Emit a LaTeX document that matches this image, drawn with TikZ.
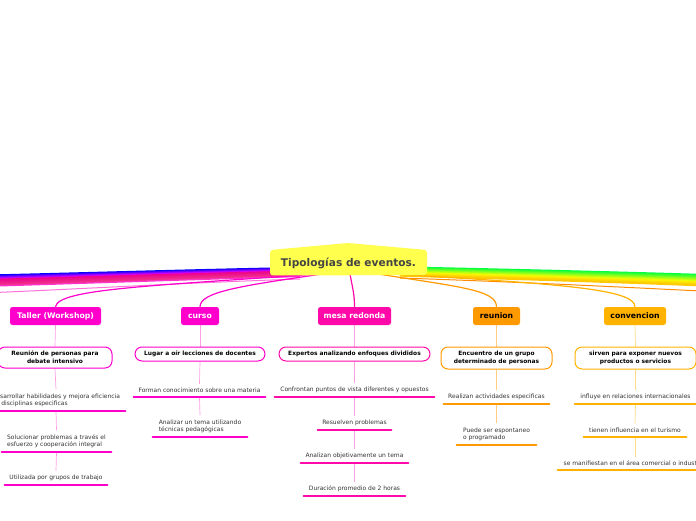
\documentclass[tikz,border=0pt]{standalone}
\usepackage{fontspec}
\setmainfont{DejaVu Sans}
\usetikzlibrary{backgrounds}
\definecolor{pinkA}{HTML}{FF00CC}
\definecolor{pinkB}{HTML}{FF0AA8}
\definecolor{orangeA}{HTML}{FF9900}
\definecolor{goldA}{HTML}{FFB300}
\definecolor{lpink}{HTML}{FF9FE6}
\definecolor{lorange}{HTML}{FFCC80}
\definecolor{lgold}{HTML}{FFDD8A}
\definecolor{titleyellow}{HTML}{FFFF4D}
\definecolor{titlegray}{HTML}{444444}
\definecolor{itemgray}{HTML}{333333}
\definecolor{bandgreen}{HTML}{00FF40}
\definecolor{bandgold}{HTML}{FFC800}
\definecolor{bandpink}{HTML}{FF33CC}
\begin{document}
\begin{tikzpicture}[x=1pt,y=-1pt,
  titletext/.style={text=titlegray, font=\bfseries\fontsize{10.6}{12}\selectfont, minimum width=157pt, minimum height=26pt, inner sep=0pt},
  mainbox/.style={rounded corners=2.5pt, minimum height=18pt, inner sep=1pt, font=\bfseries\fontsize{7.7}{9}\selectfont},
  subbox/.style={draw, fill=white, line width=1pt, rounded corners=7pt, inner sep=1pt, align=center, text=black, font=\bfseries\fontsize{5.9}{7.8}\selectfont},
  item/.style={anchor=south, inner xsep=0pt, inner ysep=4pt, text=itemgray, font=\fontsize{6}{7.4}\selectfont},
  ul/.style={line width=2.6pt, line cap=round},
  link/.style={line width=0.7pt},
  mainlink/.style={line width=1.2pt},
]
\useasboundingbox (0,0) rectangle (696,520);

% ---- title
\node[titletext] (title) at (348.5,263.5) {Tipologías de eventos.};

% ---- main boxes
\node[mainbox, fill=pinkA, text=white, minimum width=91pt] (t1) at (55.5,316) {Taller (Workshop)};
\node[mainbox, fill=pinkA, text=white, minimum width=38pt] (t2) at (200,316) {curso};
\node[mainbox, fill=pinkB, text=white, minimum width=73pt] (t3) at (354.5,316) {mesa redonda};
\node[mainbox, fill=orangeA, text=black, minimum width=47pt] (t4) at (496.5,316) {reunion};
\node[mainbox, fill=goldA, text=black, minimum width=62pt] (t5) at (635,316) {convencion};

% ---- second level
\node[subbox, draw=pinkA, minimum width=114pt, minimum height=21pt] (s1) at (55,357.5) {Reunión de personas para\\debate intensivo};
\node[subbox, draw=pinkA, minimum width=130pt, minimum height=14pt] (s2) at (200,354) {Lugar a oír lecciones de docentes};
\node[subbox, draw=pinkB, minimum width=151pt, minimum height=14pt] (s3) at (354.5,354) {Expertos analizando enfoques divididos};
\node[subbox, draw=orangeA, minimum width=111pt, minimum height=22pt] (s4) at (496.5,358) {Encuentro de un grupo\\determinado de personas};
\node[subbox, draw=goldA, minimum width=121pt, minimum height=22pt] (s5) at (635.5,358) {sirven para exponer nuevos\\productos o servicios};

% ---- items
\node[item, align=left, minimum width=138pt] (i11) at (56,411) {Desarrollar habilidades y mejora eficiencia\\en disciplinas especificas};
\node[item, align=left, minimum width=109pt] (i12) at (56.5,452) {Solucionar problemas a través el\\esfuerzo y cooperación integral};
\node[item, minimum width=102pt] (i13) at (56,485) {Utilizada por grupos de trabajo};

\node[item, minimum width=131pt] (i21) at (199.5,397) {Forman conocimiento sobre una materia};
\node[item, align=left, minimum width=94pt] (i22) at (200,437) {Analizar un tema utilizando\\técnicas pedagógicas};

\node[item, minimum width=159pt] (i31) at (354.5,397) {Confrontan puntos de vista diferentes y opuestos};
\node[item, minimum width=73pt] (i32) at (354.5,430) {Resuelven problemas};
\node[item, minimum width=107pt] (i33) at (354.5,463) {Analizan objetivamente un tema};
\node[item, minimum width=101pt] (i34) at (354.5,496) {Duración promedio de 2 horas};

\node[item, minimum width=105pt] (i41) at (496.5,404) {Realizan actividades especificas};
\node[item, align=left, minimum width=79pt] (i42) at (496.5,445) {Puede ser espontaneo\\o programado};

\node[item, minimum width=121pt] (i51) at (635.5,404) {influye en relaciones internacionales};
\node[item, minimum width=102pt] (i52) at (635,437) {tienen influencia en el turismo};
\node[item, minimum width=154pt] (i53) at (635,470) {se manifiestan en el área comercial o industrial};

% ---- underlines
\foreach \n/\c in {i11/pinkA,i12/pinkA,i13/pinkA,i21/pinkA,i22/pinkA,i31/pinkB,i32/pinkB,i33/pinkB,i34/pinkB,i41/orangeA,i42/orangeA,i51/goldA,i52/goldA,i53/goldA}
  \draw[ul, \c] (\n.south west) -- (\n.south east);

\begin{scope}[on background layer]
  % rainbow band to the left
  \foreach \i in {0,...,15}{
    \pgfmathtruncatemacro\pa{100-\i*100/6}
    \pgfmathtruncatemacro\pb{100-(\i-6)*100/9}
    \ifnum\i<6 \colorlet{bandc}{blue!\pa!magenta}\else\colorlet{bandc}{magenta!\pb!bandpink}\fi
    \draw[bandc, line width=1.3pt] (300,{267.5+0.6*\i}) .. controls (180,{270+0.65*\i}) and (80,{273+0.7*\i}) .. (-5,{275+0.73*\i});
  }
  \draw[bandpink!70!white, line width=1pt] (300,279) .. controls (180,283) and (80,289) .. (-5,292.5);
  % rainbow band to the right
  \foreach \i in {0,...,15}{
    \pgfmathtruncatemacro\pa{100-\i*100/10}
    \pgfmathtruncatemacro\pb{100-(\i-10)*100/5}
    \ifnum\i<10 \colorlet{bandc}{bandgreen!\pa!yellow}\else\colorlet{bandc}{yellow!\pb!bandgold}\fi
    \draw[bandc, line width=1.3pt] (400,{267+0.6*\i}) .. controls (500,{269+0.65*\i}) and (620,{272+0.7*\i}) .. (701,{274.5+0.75*\i});
  }
  \draw[orange!90!yellow, line width=1pt] (400,278) .. controls (520,282) and (620,287) .. (701,291);

  % main connectors
  \coordinate (ct1) at (318,274);
  \coordinate (ct2) at (322,274);
  \coordinate (ct3) at (350,274);
  \coordinate (ct4) at (378,274);
  \coordinate (ct5) at (392,274);
  \draw[mainlink, pinkA] (ct1) .. controls (150,286) and (58,289) .. (t1.north);
  \draw[mainlink, pinkA] (ct2) .. controls (240,286) and (200,292) .. (t2.north);
  \draw[mainlink, pinkB] (ct3) .. controls (353,290) and (354.5,295) .. (t3.north);
  \draw[mainlink, orangeA] (ct4) .. controls (460,287) and (496.5,290) .. (t4.north);
  \draw[mainlink, goldA] (ct5) .. controls (560,284) and (635,289) .. (t5.north);

  % title shape
  \fill[titleyellow, rounded corners=3pt] (270,250) -- (348,243) -- (427,250) -- (427,275) -- (270,275.5) -- cycle;

  % column links
  \draw[link, lpink] (t1.south) -- (s1.north);
  \draw[link, lpink] (s1.south) -- (i11.north);
  \draw[link, lpink] (i11.south) -- (i12.north);
  \draw[link, lpink] (i12.south) -- (i13.north);
  \draw[link, lpink] (t2.south) -- (s2.north);
  \draw[link, lpink] (s2.south) -- (i21.north);
  \draw[link, lpink] (i21.south) -- (i22.north);
  \draw[link, lpink] (t3.south) -- (s3.north);
  \draw[link, lpink] (s3.south) -- (i31.north);
  \draw[link, lpink] (i31.south) -- (i32.north);
  \draw[link, lpink] (i32.south) -- (i33.north);
  \draw[link, lpink] (i33.south) -- (i34.north);
  \draw[link, lorange] (t4.south) -- (s4.north);
  \draw[link, lorange] (s4.south) -- (i41.north);
  \draw[link, lorange] (i41.south) -- (i42.north);
  \draw[link, lgold] (t5.south) -- (s5.north);
  \draw[link, lgold] (s5.south) -- (i51.north);
  \draw[link, lgold] (i51.south) -- (i52.north);
  \draw[link, lgold] (i52.south) -- (i53.north);
\end{scope}
\end{tikzpicture}
\end{document}
